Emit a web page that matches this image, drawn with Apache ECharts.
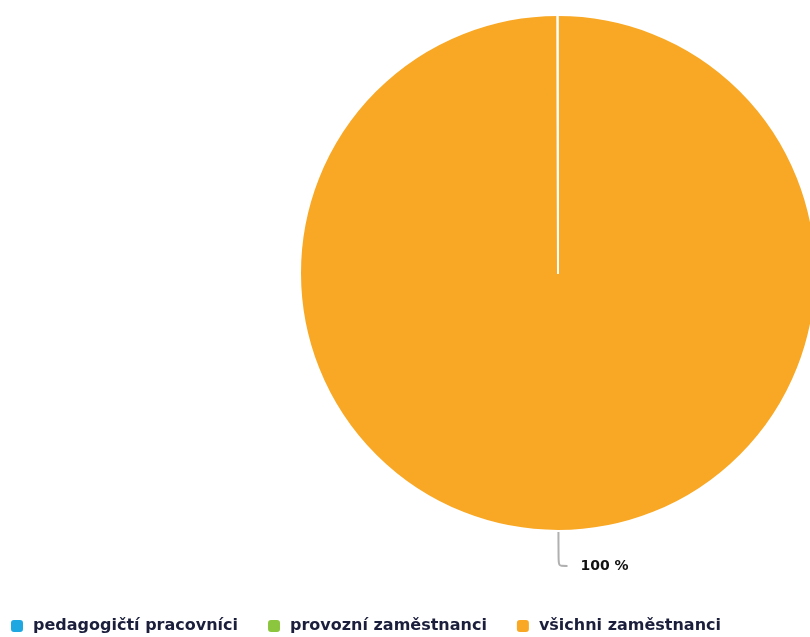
<!DOCTYPE html>
<html>
<head>
<meta charset="utf-8">
<script src="https://cdn.jsdelivr.net/npm/echarts@6/dist/echarts.min.js"></script>
<style>
  html, body { margin: 0; padding: 0; background: #fff; }
  #chart { width: 810px; height: 637px; }
</style>
</head>
<body>
<div id="chart"></div>
<script>
// Staff groups and their share values
const categories = ['pedagogičtí pracovníci', 'provozní zaměstnanci', 'všichni zaměstnanci'];
const values = [0, 0, 100];
const colors = ['#1ea7e1', '#8cc63f', '#f9a825'];

// Non-zero slices are drawn first so the white edges of empty slices stay visible on top
const order = categories.map((_, i) => i).sort((a, b) => (values[b] > 0) - (values[a] > 0));

const chart = echarts.init(document.getElementById('chart'));
chart.setOption({
  animation: false,
  color: colors,
  legend: {
    left: 4,
    bottom: -2,
    icon: 'path://M4,0 L10,0 Q14,0 14,4 L14,10 Q14,14 10,14 L4,14 Q0,14 0,10 L0,4 Q0,0 4,0 Z',
    itemWidth: 14,
    itemHeight: 14,
    itemGap: 28,
    textStyle: { fontFamily: 'DejaVu Sans', fontWeight: 'bold', fontSize: 16, color: '#1c1f3c', padding: [0, 0, 0, 4] },
    data: categories
  },
  series: [{
    type: 'pie',
    center: [558, 273],
    radius: [0, 258],
    startAngle: 90.1,
    itemStyle: { borderColor: '#ffffff', borderWidth: 2 },
    label: {
      show: true,
      formatter: function (p) { return p.value > 0 ? p.percent + ' %' : ''; },
      fontFamily: 'DejaVu Sans',
      fontWeight: 'bold',
      fontSize: 14,
      color: '#111',
      padding: [0, 0, 0, 8]
    },
    labelLine: {
      show: true,
      length: 35,
      length2: 9,
      smooth: 0.25,
      lineStyle: { color: '#b0b0b0', width: 2 }
    },
    data: order.map(i => ({
      name: categories[i],
      value: values[i],
      itemStyle: { color: colors[i] },
      label: { show: values[i] > 0 },
      labelLine: { show: values[i] > 0 }
    }))
  }]
});
</script>
</body>
</html>
